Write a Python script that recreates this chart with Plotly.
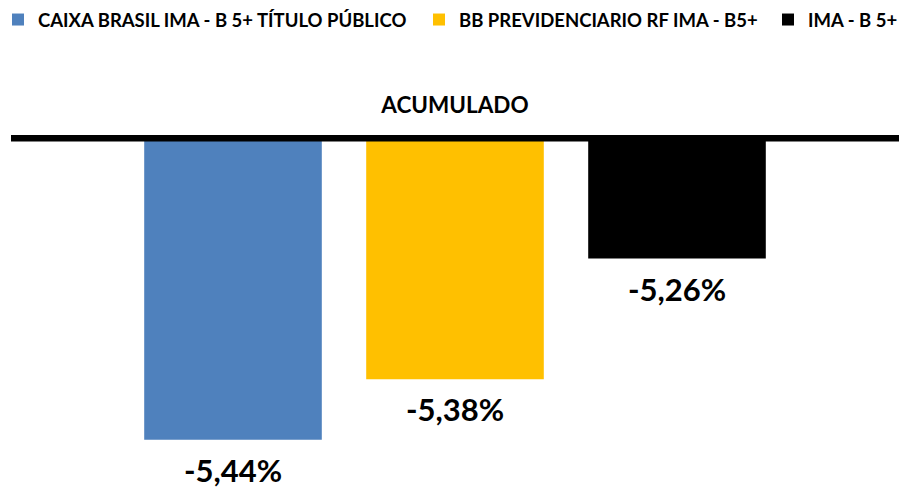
import plotly.graph_objects as go

series_names = ["CAIXA BRASIL IMA - B 5+ TÍTULO PÚBLICO", "BB PREVIDENCIARIO RF IMA - B5+", "IMA - B 5+"]
values = [-5.44, -5.38, -5.26]
colors = ["#4F81BD", "#FFC000", "#000000"]
title_text = "ACUMULADO"

FONT = "Lato"
L, T, W, H = 11, 135, 888, 355
legend_text_px = [38, 459, 808]   # left edge of legend text (pixels)

fig = go.Figure()
legend_ids = ["legend", "legend2", "legend3"]
for i, (name, v, c) in enumerate(zip(series_names, values, colors)):
    fig.add_trace(go.Bar(
        x=[i], y=[v], name=name, width=0.8,
        marker=dict(color=c, line=dict(width=0)),
        hoverinfo="skip", legend=legend_ids[i],
    ))
    fig.add_annotation(
        x=i, y=v, xref="x", yref="y",
        text=f"{v:.2f}".replace(".", ",") + "%",
        showarrow=False, yanchor="top", yshift=-9,
        font=dict(family=FONT, size=31, color="#000000", weight="bold"),
    )

line_y = 1 - 3.2 / H
fig.add_shape(type="line", xref="paper", yref="paper", x0=0, x1=1, y0=line_y, y1=line_y,
              line=dict(color="#000000", width=6.5), layer="above")

legend_font = dict(family=FONT, size=18.5, color="#000000", weight="bold")
legends = {}
for lid, px in zip(legend_ids, legend_text_px):
    legends[lid] = dict(orientation="h", x=(px - 40 - L) / W, xanchor="left",
                        y=1 + (T - 20) / H, yanchor="middle",
                        font=legend_font, itemwidth=30, bgcolor="rgba(0,0,0,0)")

fig.update_layout(
    width=899, height=490,
    margin=dict(l=L, r=899 - L - W, t=T, b=490 - T - H, autoexpand=False),
    paper_bgcolor="white", plot_bgcolor="white",
    barmode="overlay",
    xaxis=dict(range=[-1, 3], visible=False, fixedrange=True),
    yaxis=dict(range=[-5.49, -5.1373], visible=False, fixedrange=True),
    title=dict(text=title_text, x=0.5, xref="paper", y=1 - 105 / 490, yanchor="middle",
               font=dict(family=FONT, size=22.5, color="#000000", weight="bold")),
    showlegend=True,
    **legends,
)

fig.write_html("out.html", config={"displayModeBar": False},
               post_script="document.body.style.margin='0';document.body.style.overflow='hidden';")
